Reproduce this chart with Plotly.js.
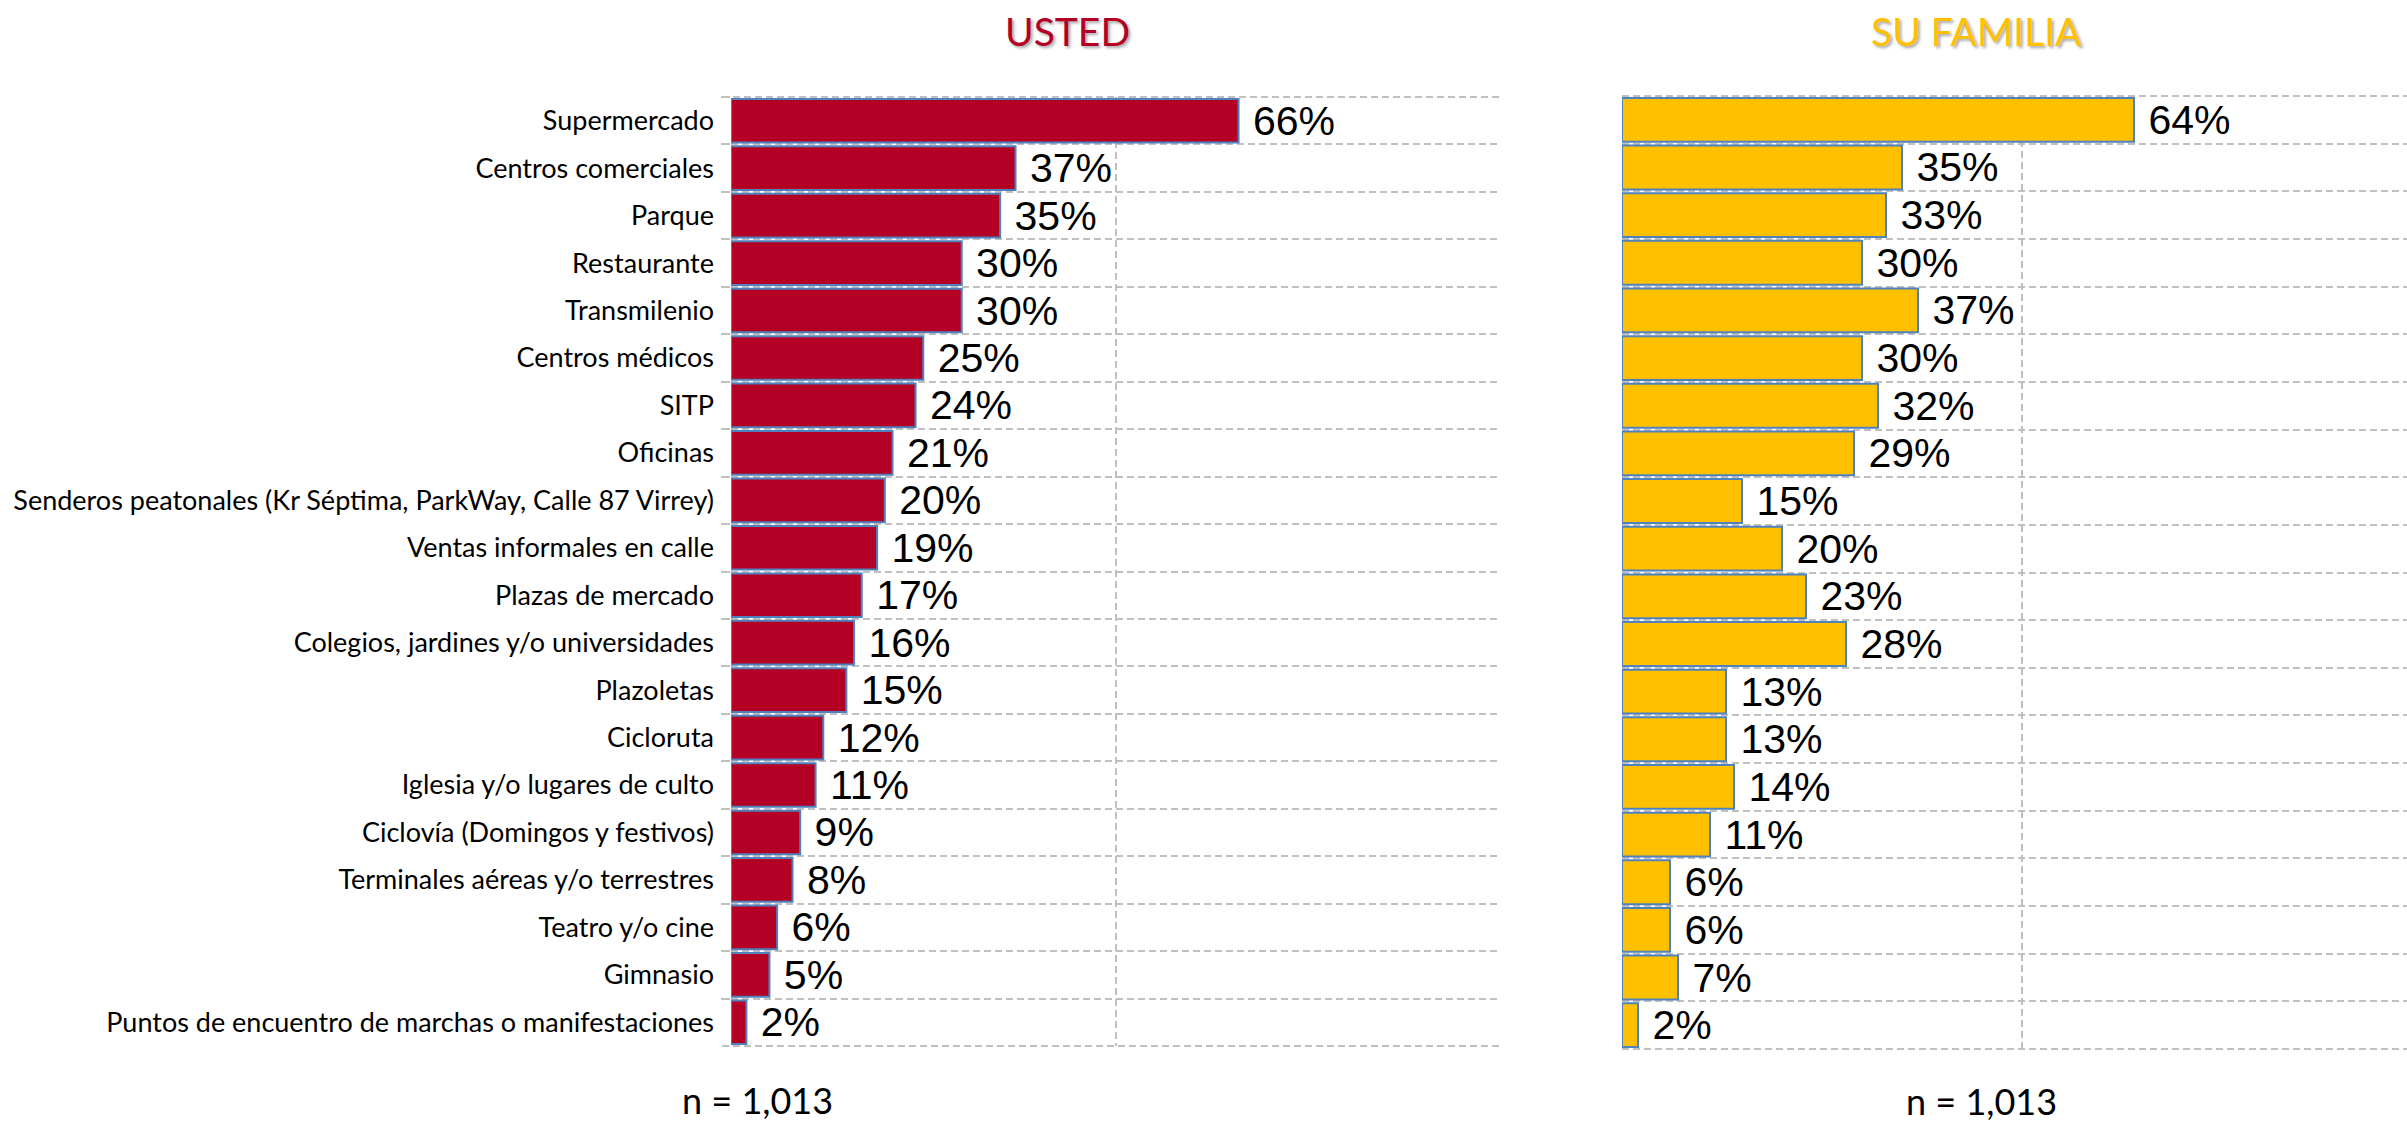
<!DOCTYPE html>
<html>
<head>
<meta charset="utf-8">
<script src="https://cdn.plot.ly/plotly-3.0.1.min.js"></script>
<style>
html,body{margin:0;padding:0;background:#ffffff;}
#chart{width:2407px;height:1124px;}
</style>
</head>
<body>
<div id="chart"></div>
<script>
// ---- data ----
const categories = [
  'Supermercado',
  'Centros comerciales',
  'Parque',
  'Restaurante',
  'Transmilenio',
  'Centros médicos',
  'SITP',
  'Oficinas',
  'Senderos peatonales (Kr Séptima, ParkWay, Calle 87 Virrey)',
  'Ventas informales en calle',
  'Plazas de mercado',
  'Colegios, jardines y/o universidades',
  'Plazoletas',
  'Cicloruta',
  'Iglesia y/o lugares de culto',
  'Ciclovía (Domingos y festivos)',
  'Terminales aéreas y/o terrestres',
  'Teatro y/o cine',
  'Gimnasio',
  'Puntos de encuentro de marchas o manifestaciones'
];
const ustedValues   = [66, 37, 35, 30, 30, 25, 24, 21, 20, 19, 17, 16, 15, 12, 11, 9, 8, 6, 5, 2];
const familiaValues = [64, 35, 33, 30, 37, 30, 32, 29, 15, 20, 23, 28, 13, 13, 14, 11, 6, 6, 7, 2];
const panelTitles = ['USTED', 'SU FAMILIA'];
const sampleLabels = ['n = 1,013', 'n = 1,013'];
const xGridVals = [0.5, 1];

// ---- styling ----
const GRID = '#BFBFBF';
const DASH = '7px,4px';
const LABEL_FONT = 'Lato, "Noto Sans", sans-serif';
const NUM_FONT = '"Liberation Sans", Arial, sans-serif';

const toFrac = v => v / 100;
const toLabel = v => '\u00a0' + v + '%';

function barTrace(vals, color, xa, ya) {
  return {
    type: 'bar',
    orientation: 'h',
    y: categories,
    x: vals.map(toFrac),
    text: vals.map(toLabel),
    textposition: 'outside',
    constraintext: 'none',
    cliponaxis: false,
    textfont: {family: NUM_FONT, size: 41, color: '#000000'},
    marker: {color: color, line: {color: '#4F81BD', width: 2}},
    xaxis: xa,
    yaxis: ya,
    hoverinfo: 'skip',
    showlegend: false
  };
}

const data = [
  barTrace(ustedValues, '#B50026', 'x', 'y'),
  barTrace(familiaValues, '#FFC000', 'x2', 'y2')
];

const W = 2407, H = 1124;
const xAxisBase = {
  showticklabels: false,
  showgrid: true,
  gridcolor: GRID,
  gridwidth: 2,
  griddash: DASH,
  zeroline: false,
  showline: false,
  ticks: '',
  tickmode: 'array',
  tickvals: xGridVals,
  fixedrange: true
};
const yAxisBase = {
  type: 'category',
  autorange: 'reversed',
  tickson: 'boundaries',
  showgrid: true,
  gridcolor: GRID,
  gridwidth: 2,
  griddash: DASH,
  zeroline: false,
  showline: false,
  fixedrange: true
};

function frameLine(xr, yr, yv, x0) {
  return {type: 'line', xref: xr, yref: yr, x0: x0, x1: 1, y0: yv, y1: yv,
          line: {color: GRID, width: 2, dash: DASH}, layer: 'below'};
}

const layout = {
  width: W,
  height: H,
  margin: {l: 0, r: 0, t: 0, b: 0},
  paper_bgcolor: '#ffffff',
  plot_bgcolor: 'rgba(0,0,0,0)',
  bargap: 0.08,
  xaxis: Object.assign({}, xAxisBase, {domain: [731 / W, 1500 / W], range: [0, 1], anchor: 'y'}),
  yaxis: Object.assign({}, yAxisBase, {
    domain: [1 - 1046 / H, 1 - 97 / H],
    anchor: 'x',
    ticks: 'outside', ticklen: 9, tickwidth: 2, tickcolor: GRID,
    ticklabelstandoff: 16,
    tickfont: {family: LABEL_FONT, size: 27, color: '#000000'}
  }),
  xaxis2: Object.assign({}, xAxisBase, {domain: [1622 / W, 1], range: [0, (W - 1622) / 800], anchor: 'y2'}),
  yaxis2: Object.assign({}, yAxisBase, {
    domain: [1 - 1049 / H, 1 - 96 / H],
    anchor: 'x2',
    showticklabels: false,
    ticks: ''
  }),
  shapes: [
    frameLine('x domain', 'y domain', 1, -9 / 769),
    frameLine('x domain', 'y domain', 0, -9 / 769),
    frameLine('x2 domain', 'y2 domain', 1, 0),
    frameLine('x2 domain', 'y2 domain', 0, 0)
  ],
  annotations: [
    {text: panelTitles[0], xref: 'paper', yref: 'paper', x: 1067 / W, y: 1 - 31 / H,
     xanchor: 'center', yanchor: 'middle', showarrow: false,
     font: {family: LABEL_FONT, size: 39, color: '#B50026', weight: 'normal', shadow: '2px 2px 3px rgba(0,0,0,0.35)'}},
    {text: panelTitles[1], xref: 'paper', yref: 'paper', x: 1976 / W, y: 1 - 31 / H,
     xanchor: 'center', yanchor: 'middle', showarrow: false,
     font: {family: LABEL_FONT, size: 39, color: '#FFC000', weight: 'normal', shadow: '2px 2px 3px rgba(0,0,0,0.35)'}},
    {text: sampleLabels[0], xref: 'paper', yref: 'paper', x: 757 / W, y: 1 - 1100 / H,
     xanchor: 'center', yanchor: 'middle', showarrow: false,
     font: {family: LABEL_FONT, size: 36, color: '#000000'}},
    {text: sampleLabels[1], xref: 'paper', yref: 'paper', x: 1981 / W, y: 1 - 1101 / H,
     xanchor: 'center', yanchor: 'middle', showarrow: false,
     font: {family: LABEL_FONT, size: 36, color: '#000000'}}
  ]
};

Plotly.newPlot('chart', data, layout, {staticPlot: true, displayModeBar: false});
</script>
</body>
</html>
